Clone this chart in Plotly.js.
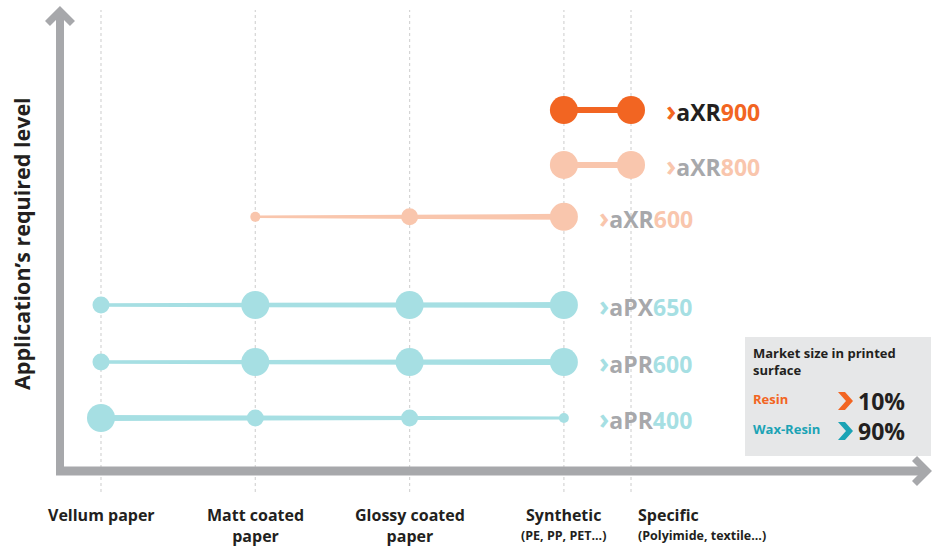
<!DOCTYPE html>
<html>
<head>
<meta charset="utf-8">
<script src="https://cdn.plot.ly/plotly-3.0.1.min.js"></script>
<style>html,body{margin:0;padding:0;background:#fff;}#chart{width:937px;height:546px;}</style>
</head>
<body>
<div id="chart"></div>
<script>
// ---------- data ----------
const categories = ['Vellum paper', 'Matt coated<br>paper', 'Glossy coated<br>paper', 'Synthetic', 'Specific'];
const categorySub = ['', '', '', '(PE, PP, PET...)', '(Polyimide, textile...)'];
const categoryPos = [0, 1, 2, 3, 3.435];

const productPrefix = ['aXR', 'aXR', 'aXR', 'aPX', 'aPR', 'aPR'];
const productNumber = ['900', '800', '600', '650', '600', '400'];
const productLevel = [6.45, 5.48, 4.56, 3.0, 1.99, 1.0];
// category indices covered by each product and suitability (1 = low, 3 = high)
const productCats = [[3, 4], [3, 4], [1, 2, 3], [0, 1, 2, 3], [0, 1, 2, 3], [0, 1, 2, 3]];
const productFit = [[3, 3], [3, 3], [1, 2, 3], [2, 3, 3, 3], [2, 3, 3, 3], [3, 2, 2, 1]];

const marketLabels = ['Resin', 'Wax-Resin'];
const marketShare = [10, 90];
const marketTitle = 'Market size in printed<br>surface';
const yTitle = 'Application\u2019s required level';

// ---------- styles ----------
const ORANGE = '#f26522', PEACH = '#f9c6ad', TEAL = '#a6dfe3', GRAY = '#a7a8ab', DARK = '#231f20', TEALDARK = '#1ba3b5';
const fitSize = {1: 10, 2: 17, 3: 28};
const productColor = [ORANGE, PEACH, PEACH, TEAL, TEAL, TEAL];
const prefixColor = [DARK, GRAY, GRAY, GRAY, GRAY, GRAY];
const taper = [[6, 6], [6, 6], [2.5, 6], [3.5, 6], [3.5, 6], [6, 3]];
const FONT = 'Open Sans, Noto Sans, sans-serif';

const W = 937, H = 546;
const pxPerX = 154.3, pxPerY = 56.5;
const xRange = [-101 / pxPerX, (W - 101) / pxPerX];
const yRange = [1 - (H - 418) / pxPerY, 1 + 418 / pxPerY];
const kY = (yRange[1] - yRange[0]) / H;
const P = px => px / W;
const Q = py => 1 - py / H;

const lineTraces = [], markerTraces = [];
productLevel.forEach((lv, i) => {
  const xs = productCats[i].map(c => categoryPos[c]);
  const x0 = xs[0], xn = xs[xs.length - 1];
  const t0 = taper[i][0] / 2 * kY, tn = taper[i][1] / 2 * kY;
  lineTraces.push({
    type: 'scatter', mode: 'lines', fill: 'toself', fillcolor: productColor[i],
    line: {width: 0, color: productColor[i]}, hoverinfo: 'skip', showlegend: false,
    x: [x0, xn, xn, x0, x0], y: [lv + t0, lv + tn, lv - tn, lv - t0, lv + t0]
  });
  markerTraces.push({
    type: 'scatter', mode: 'markers', showlegend: false, hoverinfo: 'skip', opacity: 1,
    x: xs, y: xs.map(() => lv),
    marker: {size: productFit[i].map(f => fitSize[f]), color: productColor[i], opacity: 1, line: {width: 0}}
  });
});
const traces = lineTraces.concat(markerTraces);

const shapes = [];
// dotted guides
categoryPos.forEach(x => {
  shapes.push({type: 'line', xref: 'x', yref: 'paper', x0: x, x1: x, y0: Q(492), y1: Q(10),
    line: {color: '#d5d5d5', width: 1.2, dash: 'dot'}, layer: 'below'});
});
// axes arrows
shapes.push({type: 'line', xref: 'paper', yref: 'paper', x0: P(60), x1: P(60), y0: Q(475), y1: Q(14), line: {color: GRAY, width: 8}});
shapes.push({type: 'line', xref: 'paper', yref: 'paper', x0: P(56), x1: P(924), y0: Q(471), y1: Q(471), line: {color: GRAY, width: 9}});
function poly(pts) {
  return 'M ' + pts.map(p => P(p[0]).toFixed(5) + ',' + Q(p[1]).toFixed(5)).join(' L ') + ' Z';
}
shapes.push({type: 'path', xref: 'paper', yref: 'paper', path: poly([[60, 6], [75, 21], [70, 26], [60, 16], [50, 26], [45, 21]]), fillcolor: GRAY, line: {width: 0}});
shapes.push({type: 'path', xref: 'paper', yref: 'paper', path: poly([[932, 471], [917, 456], [912, 461], [922, 471], [912, 481], [917, 486]]), fillcolor: GRAY, line: {width: 0}});
// market box
shapes.push({type: 'rect', xref: 'paper', yref: 'paper', x0: P(745), x1: P(931), y0: Q(456), y1: Q(337), fillcolor: '#e6e7e8', line: {width: 0}});
const chevColors = [ORANGE, TEALDARK];
const rowY = [401, 431];
rowY.forEach((cy, j) => {
  shapes.push({type: 'path', xref: 'paper', yref: 'paper',
    path: poly([[838, cy - 9], [845, cy - 9], [853, cy], [845, cy + 9], [838, cy + 9], [846, cy]]),
    fillcolor: chevColors[j], line: {width: 0}});
});

const annotations = [];
// category labels
categories.forEach((c, i) => {
  const left = i === categories.length - 1;
  const base = {xref: 'x', yref: 'paper', x: categoryPos[i], xanchor: left ? 'left' : 'center',
    xshift: left ? 6 : 0, showarrow: false, borderpad: 0, align: 'center'};
  annotations.push(Object.assign({}, base, {y: Q(503), yanchor: 'top', text: '<b>' + c + '</b>', font: {family: FONT, size: 16, color: DARK}}));
  if (categorySub[i]) {
    annotations.push(Object.assign({}, base, {y: Q(535), yanchor: 'middle', text: '<b>' + categorySub[i] + '</b>', font: {family: FONT, size: 12.5, color: DARK}}));
  }
});
// product labels
productLevel.forEach((lv, i) => {
  const cats = productCats[i];
  const lastX = categoryPos[cats[cats.length - 1]];
  annotations.push({xref: 'x', yref: 'y', x: lastX, y: lv, xanchor: 'left', yanchor: 'middle', xshift: 33, showarrow: false,
    text: '<b><span style="color:' + productColor[i] + ';font-size:28px">\u203A</span><span style="color:' + prefixColor[i] + '">' + productPrefix[i] +
      '</span><span style="color:' + productColor[i] + '">' + productNumber[i] + '</span></b>',
    font: {family: FONT, size: 23, color: DARK}});
});
// y title
annotations.push({xref: 'paper', yref: 'paper', x: P(22), y: Q(244), xanchor: 'center', yanchor: 'middle', textangle: -90,
  text: '<b>' + yTitle + '</b>', showarrow: false, font: {family: FONT, size: 21.5, color: DARK}});
// market box text
annotations.push({xref: 'paper', yref: 'paper', x: P(751), y: Q(342), xanchor: 'left', yanchor: 'top', align: 'left',
  text: '<b>' + marketTitle + '</b>', showarrow: false, font: {family: FONT, size: 13, color: DARK}});
marketLabels.forEach((m, j) => {
  annotations.push({xref: 'paper', yref: 'paper', x: P(751), y: Q(rowY[j] - 2), xanchor: 'left', yanchor: 'middle',
    text: '<b>' + m + '</b>', showarrow: false, font: {family: FONT, size: 13, color: chevColors[j]}});
  annotations.push({xref: 'paper', yref: 'paper', x: P(856), y: Q(rowY[j]), xanchor: 'left', yanchor: 'middle',
    text: '<b>' + marketShare[j] + '%</b>', showarrow: false, font: {family: FONT, size: 23, color: DARK}});
});

const layout = {
  width: W, height: H, margin: {l: 0, r: 0, t: 0, b: 0},
  paper_bgcolor: '#fff', plot_bgcolor: 'rgba(0,0,0,0)',
  xaxis: {range: xRange, visible: false, fixedrange: true},
  yaxis: {range: yRange, visible: false, fixedrange: true},
  shapes: shapes, annotations: annotations, showlegend: false
};
Plotly.newPlot('chart', traces, layout, {displayModeBar: false, staticPlot: true});
</script>
</body>
</html>
